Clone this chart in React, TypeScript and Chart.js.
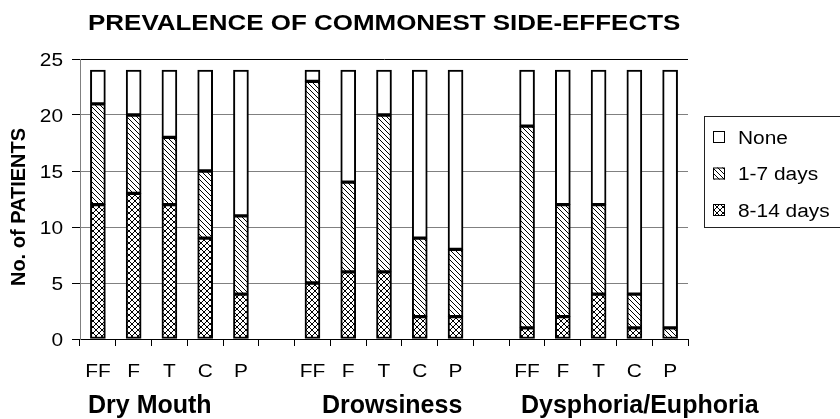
import React, { useEffect, useRef } from "react";
import { Chart, registerables } from "chart.js";

Chart.register(...registerables);

const categories = ["FF", "F", "T", "C", "P", "", "FF", "F", "T", "C", "P", "", "FF", "F", "T", "C", "P"];
const groupLabels = ["Dry Mouth", "Drowsiness", "Dysphoria/Euphoria"];
const days8to14 = [12, 13, 12, 9, 4, null, 5, 6, 6, 2, 2, null, 1, 2, 4, 1, 0];
const days1to7 = [9, 7, 6, 6, 7, null, 18, 8, 14, 7, 6, null, 18, 10, 8, 3, 1];
const noneVals = [3, 4, 6, 9, 13, null, 1, 10, 4, 15, 16, null, 5, 12, 12, 20, 23];
const seriesNames = ["8-14 days", "1-7 days", "None"];
const yTicks = [0, 5, 10, 15, 20, 25];

const FONT = "'Liberation Sans', Arial, Helvetica, sans-serif";
const SX = 1.16; // horizontal stretch of the reference text

function makePattern(kind: "cross" | "hatch" | "none"): CanvasPattern | string {
  if (kind === "none") return "#ffffff";
  const s = kind === "cross" ? 6 : 5;
  const c = document.createElement("canvas");
  c.width = s;
  c.height = s;
  const g = c.getContext("2d")!;
  g.fillStyle = "#fff";
  g.fillRect(0, 0, s, s);
  g.strokeStyle = "#000";
  g.lineWidth = 1;
  const line = (x1: number, y1: number, x2: number, y2: number) => {
    g.beginPath();
    g.moveTo(x1, y1);
    g.lineTo(x2, y2);
    g.stroke();
  };
  line(-1, -1, s + 1, s + 1);
  line(-1, s - 1, 1, s + 1);
  line(s - 1, -1, s + 1, 1);
  if (kind === "cross") {
    line(-1, s + 1, s + 1, -1);
    line(-1, 1, 1, -1);
    line(s - 1, s + 1, s + 1, s - 1);
  }
  return g.createPattern(c, "repeat")!;
}

function txt(ctx: any, t: string, x: number, y: number, align: string, font: string, sx = SX) {
  ctx.save();
  ctx.translate(x, y);
  ctx.scale(sx, 1);
  ctx.font = font;
  ctx.textAlign = align;
  ctx.textBaseline = "alphabetic";
  ctx.fillStyle = "#000";
  ctx.fillText(t, 0, 0);
  ctx.restore();
}

export default function App() {
  const ref = useRef<HTMLCanvasElement>(null);

  useEffect(() => {
    document.body.style.margin = "0";
    const canvas = ref.current!;
    const fills = [makePattern("cross"), makePattern("hatch"), makePattern("none")];
    const values = [days8to14, days1to7, noneVals];

    const overlay = {
      id: "overlay",
      afterDraw(chart: any) {
        const ctx = chart.ctx;
        const xs = chart.scales.x;
        const ys = chart.scales.y;
        ctx.save();
        // title
        txt(ctx, "PREVALENCE OF COMMONEST SIDE-EFFECTS", 88, 30, "left", `bold 22px ${FONT}`, 1.18);
        // y title
        ctx.save();
        ctx.translate(25, 207);
        ctx.rotate(-Math.PI / 2);
        ctx.font = `bold 20px ${FONT}`;
        ctx.textAlign = "center";
        ctx.textBaseline = "alphabetic";
        ctx.fillStyle = "#000";
        ctx.fillText("No. of PATIENTS", 0, 0);
        ctx.restore();
        // y tick labels
        yTicks.forEach((v) => txt(ctx, String(v), 63, ys.getPixelForValue(v) + 6.5, "right", `18px ${FONT}`));
        // x tick labels
        categories.forEach((c, i) => {
          if (c) txt(ctx, c, xs.getPixelForValue(i), 377, "center", `18px ${FONT}`);
        });
        // group labels
        const gx = [88, 322, 521];
        groupLabels.forEach((t, i) => txt(ctx, t, gx[i], 413, "left", `bold 25px ${FONT}`, 1));
        // legend
        ctx.strokeStyle = "#222";
        ctx.lineWidth = 1;
        ctx.strokeRect(704.5, 116.5, 140, 111);
        const order = [2, 1, 0];
        order.forEach((di, k) => {
          const cy = 137 + k * 36.5;
          ctx.fillStyle = fills[di] as any;
          ctx.fillRect(713, cy - 6, 12, 12);
          ctx.strokeStyle = "#000";
          ctx.strokeRect(713.5, cy - 5.5, 11, 11);
          txt(ctx, seriesNames[di], 738, cy + 6.5, "left", `18px ${FONT}`);
        });
        ctx.restore();
      },
    };

    const chart = new Chart(canvas, {
      type: "bar",
      data: {
        labels: categories,
        datasets: values.map((v, i) => ({
          label: seriesNames[i],
          data: v,
          backgroundColor: fills[i] as any,
          borderColor: "#000",
          borderWidth: 2,
          borderSkipped: false,
          barThickness: 15,
        })),
      },
      options: {
        responsive: false,
        animation: false,
        layout: { padding: { top: 59, right: 152, bottom: 0, left: 0 } },
        plugins: { legend: { display: false }, title: { display: false }, tooltip: { enabled: false } },
        scales: {
          x: {
            stacked: true,
            grid: { offset: true, drawOnChartArea: false, drawTicks: true, tickLength: 7, color: "#000" },
            border: { color: "#000", width: 1 },
            ticks: { display: false, autoSkip: false, maxRotation: 0 },
            afterFit: (s: any) => { s.height = 80; },
          },
          y: {
            stacked: true,
            min: 0,
            max: 25,
            afterBuildTicks: (s: any) => { s.ticks = yTicks.map((v) => ({ value: v })); },
            ticks: { display: false },
            grid: {
              color: (c: any) => (c.tick && c.tick.value === 25 ? "#000" : "#808080"),
              lineWidth: 1,
              tickLength: 8,
              tickColor: "#000",
            },
            border: { color: "#808080", width: 1 },
            afterFit: (s: any) => { s.width = 80; },
          },
        },
      },
      plugins: [overlay],
    });
    return () => chart.destroy();
  }, []);

  return <canvas ref={ref} width={840} height={419} style={{ display: "block" }} />;
}
